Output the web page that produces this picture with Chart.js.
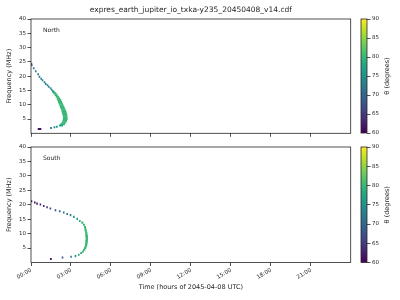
<!DOCTYPE html>
<html>
<head>
<meta charset="utf-8">
<script src="https://cdn.jsdelivr.net/npm/chart.js@4.4.1/dist/chart.umd.min.js"></script>
<style>
  html, body { margin: 0; padding: 0; background: #fff; }
  #fig { position: relative; width: 400px; height: 300px; overflow: hidden; }
  #fig canvas { position: absolute; }
</style>
</head>
<body>
<div id="fig">
  <canvas id="north" width="360" height="140" style="left:0;top:0"></canvas>
  <canvas id="south" width="360" height="160" style="left:0;top:140px"></canvas>
  <canvas id="cbNorth" width="45" height="140" style="left:355px;top:0"></canvas>
  <canvas id="cbSouth" width="45" height="160" style="left:355px;top:140px"></canvas>
</div>
<script>
// --- data (hours of day, MHz, degrees) ---
const timeTicks = [0, 3, 6, 9, 12, 15, 18, 21];
const freqTicks = [5, 10, 15, 20, 25, 30, 35, 40];
const thetaTicks = [60, 65, 70, 75, 80, 85, 90];

const northFreq  = [24.3, 23.8, 22.75, 21.7, 20.65, 19.8, 19.1, 18.55, 17.85, 17.25, 16.8, 16.3, 15.75, 15.25, 14.7,
                    14.55, 14.0, 13.4, 12.8, 12.2, 11.6, 11.0, 10.4, 9.8, 9.2, 8.6, 8.0, 7.4, 6.8, 6.2, 5.6, 5.0, 4.4, 3.8, 3.2, 2.7,
                    2.3, 2.1, 1.85, 1.5];
const northStart = [0.0, 0.02, 0.17, 0.32, 0.5, 0.6, 0.73, 0.83, 0.98, 1.07, 1.2, 1.3, 1.43, 1.52, 1.6,
                    1.62, 1.7, 1.8, 1.88, 1.95, 2.0, 2.05, 2.1, 2.15, 2.2, 2.25, 2.3, 2.33, 2.37, 2.4, 2.42, 2.42, 2.38, 2.32, 2.22, 2.12,
                    1.9, 1.72, 1.46, 0.53];
const northEnd   = [0.07, 0.09, 0.24, 0.39, 0.57, 0.67, 0.8, 0.9, 1.05, 1.14, 1.27, 1.37, 1.5, 1.59, 1.67,
                    1.75, 1.88, 1.97, 2.08, 2.17, 2.24, 2.3, 2.36, 2.42, 2.48, 2.54, 2.6, 2.64, 2.68, 2.7, 2.72, 2.72, 2.68, 2.62, 2.52, 2.38,
                    1.98, 1.8, 1.54, 0.75];
const northTheta = [71, 71, 71, 72, 72, 72, 72, 73, 73, 73, 73, 74, 74, 75, 75,
                    77, 79, 80, 80, 80, 80, 80, 80, 80, 80, 80, 80, 80, 80, 80, 80, 80, 80, 80, 79, 78,
                    76, 74, 71, 61];

const southFreq  = [21.2, 20.8, 20.4, 20.1, 19.6, 19.15, 18.7, 18.1, 17.75, 17.3, 16.8, 16.4, 15.8, 15.1, 14.4, 13.8, 13.1, 12.3,
                    11.6, 11.0, 10.4, 9.8, 9.2, 8.6, 8.0, 7.4, 6.8, 6.2, 5.6, 5.0, 4.4, 3.8, 3.3,
                    2.7, 2.2, 2.0, 1.7, 1.2];
const southStart = [0.0, 0.25, 0.42, 0.67, 0.92, 1.17, 1.42, 1.8, 2.12, 2.42, 2.68, 2.93, 3.18, 3.43, 3.62, 3.8, 3.92, 4.0,
                    4.03, 4.05, 4.08, 4.1, 4.1, 4.12, 4.12, 4.1, 4.1, 4.08, 4.05, 4.0, 3.93, 3.85, 3.72,
                    3.55, 3.3, 2.97, 2.33, 1.45];
const southEnd   = [0.07, 0.32, 0.49, 0.74, 0.99, 1.24, 1.49, 1.87, 2.19, 2.49, 2.75, 3.0, 3.25, 3.5, 3.7, 3.9, 4.02, 4.1,
                    4.13, 4.17, 4.2, 4.22, 4.24, 4.25, 4.25, 4.24, 4.22, 4.2, 4.17, 4.12, 4.05, 3.95, 3.82,
                    3.62, 3.37, 3.04, 2.4, 1.53];
const southTheta = [61, 62, 62, 63, 64, 65, 66, 67, 69, 70, 72, 73, 75, 77, 79, 80, 80, 80,
                    80, 80, 80, 80, 80, 80, 80, 80, 80, 80, 80, 80, 80, 80, 79,
                    78, 75, 72, 67, 61];

// viridis colormap stops
const viridis = ['#440154', '#482475', '#414487', '#355f8d', '#2a788e', '#21918c',
                 '#22a884', '#44bf70', '#7ad151', '#bddf26', '#fde725'];

function hexRgb(h) {
  return [1, 3, 5].map(i => parseInt(h.slice(i, i + 2), 16));
}
function viridisColor(theta) {
  let t = (theta - 60) / 30;
  t = Math.max(0, Math.min(1, t)) * (viridis.length - 1);
  const i = Math.min(Math.floor(t), viridis.length - 2);
  const f = t - i;
  const a = hexRgb(viridis[i]), b = hexRgb(viridis[i + 1]);
  const c = a.map((v, k) => Math.round(v + (b[k] - v) * f));
  return `rgb(${c[0]},${c[1]},${c[2]})`;
}

const FONT = '"DejaVu Sans", sans-serif';
const INK = '#262626';

// box around the axes + small annotations
const frame = {
  id: 'frame',
  afterDraw(chart, args, opts) {
    const { ctx, chartArea: a } = chart;
    ctx.save();
    ctx.strokeStyle = INK;
    ctx.lineWidth = 0.8;
    ctx.strokeRect(a.left, a.top, a.right - a.left, a.bottom - a.top);
    ctx.fillStyle = INK;
    if (opts.label) {
      ctx.font = `6px ${FONT}`;
      ctx.textBaseline = 'middle';
      ctx.fillText(opts.label, a.left + 12, a.top + 11);
    }
    if (opts.sideLabel) {
      ctx.font = `6.5px ${FONT}`;
      ctx.textAlign = 'center';
      ctx.textBaseline = 'middle';
      ctx.translate(32, (a.top + a.bottom) / 2);
      ctx.rotate(-Math.PI / 2);
      ctx.fillText(opts.sideLabel, 0, 0);
    }
    ctx.restore();
  }
};

function tickGrid() {
  return { display: true, drawOnChartArea: false, drawTicks: true, tickLength: 3.5, color: INK, lineWidth: 0.8 };
}

function makePanel(id, freq, start, end, theta, label, isBottom) {
  const data = freq.map((f, i) => ({ y: f, x: [start[i], end[i]] }));
  return new Chart(document.getElementById(id), {
    type: 'bar',
    data: {
      datasets: [{
        data: data,
        backgroundColor: theta.map(viridisColor),
        borderWidth: 0,
        barThickness: 1.4,
        grouped: false
      }]
    },
    plugins: [frame],
    options: {
      indexAxis: 'y',
      responsive: false,
      animation: false,
      events: [],
      layout: { padding: isBottom ? { top: 7, right: 9.3, bottom: 0, left: 0 } : { top: 0, right: 9.3, bottom: 3.2, left: 0 } },
      plugins: {
        legend: { display: false },
        tooltip: { enabled: false },
        title: {
          display: !isBottom,
          fullSize: false,
          text: 'expres_earth_jupiter_io_txka-y235_20450408_v14.cdf',
          color: INK,
          font: { family: FONT, size: 7.5, weight: 'normal' },
          padding: { top: 6, bottom: 4 }
        },
        frame: { label: label }
      },
      scales: {
        x: {
          type: 'linear',
          min: 0,
          max: 23.98,
          offset: false,
          afterBuildTicks: s => { s.ticks = timeTicks.map(v => ({ value: v })); },
          afterFit: s => { s.height = isBottom ? 37.5 : 3.5; },
          ticks: {
            display: isBottom,
            minRotation: 30,
            maxRotation: 30,
            autoSkip: false,
            padding: 1,
            color: INK,
            font: { family: FONT, size: 5.5 },
            callback: v => String(v).padStart(2, '0') + ':00'
          },
          grid: tickGrid(),
          border: { display: false },
          title: {
            display: isBottom,
            text: 'Time (hours of 2045-04-08 UTC)',
            color: INK,
            font: { family: FONT, size: 6.5 },
            padding: { top: 0, bottom: 9 }
          }
        },
        y: {
          type: 'linear',
          min: 0,
          max: 40,
          offset: false,
          afterBuildTicks: s => { s.ticks = freqTicks.map(v => ({ value: v })); },
          afterFit: s => { s.width = 31; },
          ticks: {
            padding: 1.5,
            color: INK,
            font: { family: FONT, size: 5.5 }
          },
          grid: Object.assign(tickGrid(), { offset: false }),
          border: { display: false },
          title: {
            display: true,
            text: 'Frequency (MHz)',
            color: INK,
            font: { family: FONT, size: 6.5 },
            padding: { top: 5, bottom: 0 }
          }
        }
      }
    }
  });
}

function makeColorbar(id, isBottom) {
  return new Chart(document.getElementById(id), {
    type: 'bar',
    data: {
      labels: [''],
      datasets: [{
        data: [[thetaTicks[0], thetaTicks[thetaTicks.length - 1]]],
        borderWidth: 0,
        barPercentage: 1,
        categoryPercentage: 1,
        backgroundColor: ctx => {
          const a = ctx.chart.chartArea;
          if (!a) return viridis[5];
          const g = ctx.chart.ctx.createLinearGradient(0, a.bottom, 0, a.top);
          viridis.forEach((c, i) => g.addColorStop(i / (viridis.length - 1), c));
          return g;
        }
      }]
    },
    plugins: [frame],
    options: {
      responsive: false,
      animation: false,
      events: [],
      layout: { padding: isBottom ? { top: 7, right: 0, bottom: 37.5, left: 6 } : { top: 19, right: 0, bottom: 7, left: 6 } },
      plugins: {
        legend: { display: false },
        tooltip: { enabled: false },
        frame: { sideLabel: 'θ (degrees)' }
      },
      scales: {
        x: { display: false },
        y: {
          position: 'right',
          min: 60,
          max: 90,
          afterBuildTicks: s => { s.ticks = thetaTicks.map(v => ({ value: v })); },
          afterFit: s => { s.width = 33; },
          ticks: {
            padding: 1.5,
            color: INK,
            font: { family: FONT, size: 5.5 }
          },
          grid: tickGrid(),
          border: { display: false }
        }
      }
    }
  });
}

makePanel('north', northFreq, northStart, northEnd, northTheta, 'North', false);
makePanel('south', southFreq, southStart, southEnd, southTheta, 'South', true);
makeColorbar('cbNorth', false);
makeColorbar('cbSouth', true);
</script>
</body>
</html>
